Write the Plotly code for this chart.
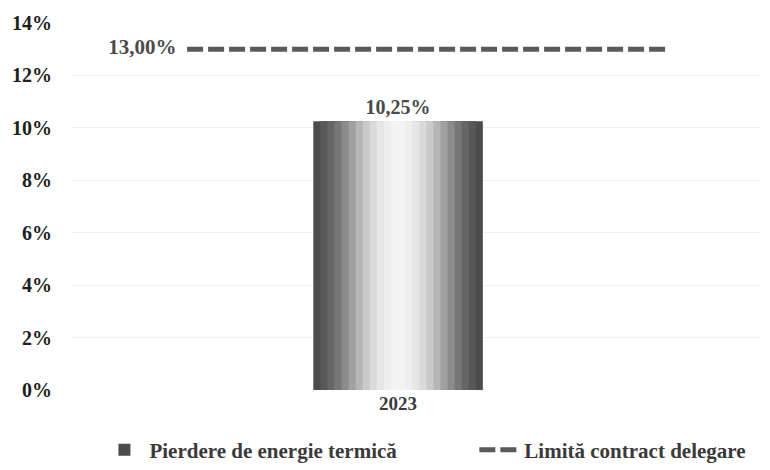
import plotly.graph_objects as go

# ---- data ----
years = ["2023"]
pierdere = [10.25]          # Pierdere de energie termică (%)
limita = 13.00              # Limită contract delegare (%)
y_ticks = [0, 2, 4, 6, 8, 10, 12, 14]
y_tick_labels = [f"{v}%" for v in y_ticks]
series_names = ["Pierdere de energie termică", "Limită contract delegare"]

# ---- style ----
FONT = "Liberation Serif"
BAR_POS = 0.0
BAR_W = 0.52
LINE_X = [-0.647, 0.834]
X_RANGE = [-1.0, 1.11]

# gradient shades for the bar (outer -> inner)
shades = ["#4c4c4c", "#585858", "#666666", "#777777", "#8b8b8b", "#a0a0a0",
          "#b6b6b6", "#cacaca", "#dadada", "#e6e6e6", "#eeeeee", "#f3f3f3"]

fig = go.Figure()
n = len(shades)
for i, c in enumerate(shades):
    w = BAR_W * (1 - i / n)
    fig.add_trace(go.Bar(
        x=[BAR_POS], y=pierdere, width=[w],
        marker=dict(color=c, line=dict(width=0)),
        name=series_names[0],
        showlegend=(i == 0),
        legend="legend",
        textposition="outside" if i == 0 else "none",
        texttemplate="%{y:.2f}%" if i == 0 else None,
        textfont=dict(family=FONT, size=20, color="#4a4a4a", weight="bold"),
        cliponaxis=False,
        hoverinfo="skip" if i else "all",
    ))

fig.add_trace(go.Scatter(
    x=LINE_X, y=[limita, limita],
    mode="lines+text",
    line=dict(color="#5a5a5a", width=5, dash="16px,5px"),
    text=[f"{limita:.2f}%".replace(".", ",") + "  ", ""],
    textposition="middle left",
    textfont=dict(family=FONT, size=21, color="#4a4a4a", weight="bold"),
    name=series_names[1],
    legend="legend2",
    cliponaxis=False,
))

legend_common = dict(orientation="h", xanchor="left",
                     yref="container", y=0.043, yanchor="middle",
                     font=dict(family=FONT, size=21, color="#3a3a3a", weight="bold"),
                     itemwidth=40)

fig.update_layout(
    width=762, height=462,
    margin=dict(l=64, r=10, t=15, b=80, autoexpand=False),
    paper_bgcolor="white", plot_bgcolor="white",
    barmode="overlay",
    separators=",.",
    font=dict(family=FONT, size=20, color="#2a2a2a", weight="bold"),
    showlegend=True,
    legend=dict(xref="container", x=0.12, **legend_common),
    legend2=dict(xref="container", x=0.612, **legend_common),
    xaxis=dict(range=X_RANGE, tickvals=[BAR_POS], ticktext=years,
               showgrid=False, zeroline=False, showline=False, automargin=False,
               tickfont=dict(family=FONT, size=19, color="#3a3a3a", weight="bold")),
    yaxis=dict(range=[0, 14], tickvals=y_ticks, ticktext=y_tick_labels,
               showgrid=True, gridcolor="#f1f1f1", zeroline=False, showline=False,
               automargin=False, ticklabelstandoff=19,
               tickfont=dict(family=FONT, size=20, color="#1e1e1e", weight="bold")),
)

fig.write_html("out.html")
